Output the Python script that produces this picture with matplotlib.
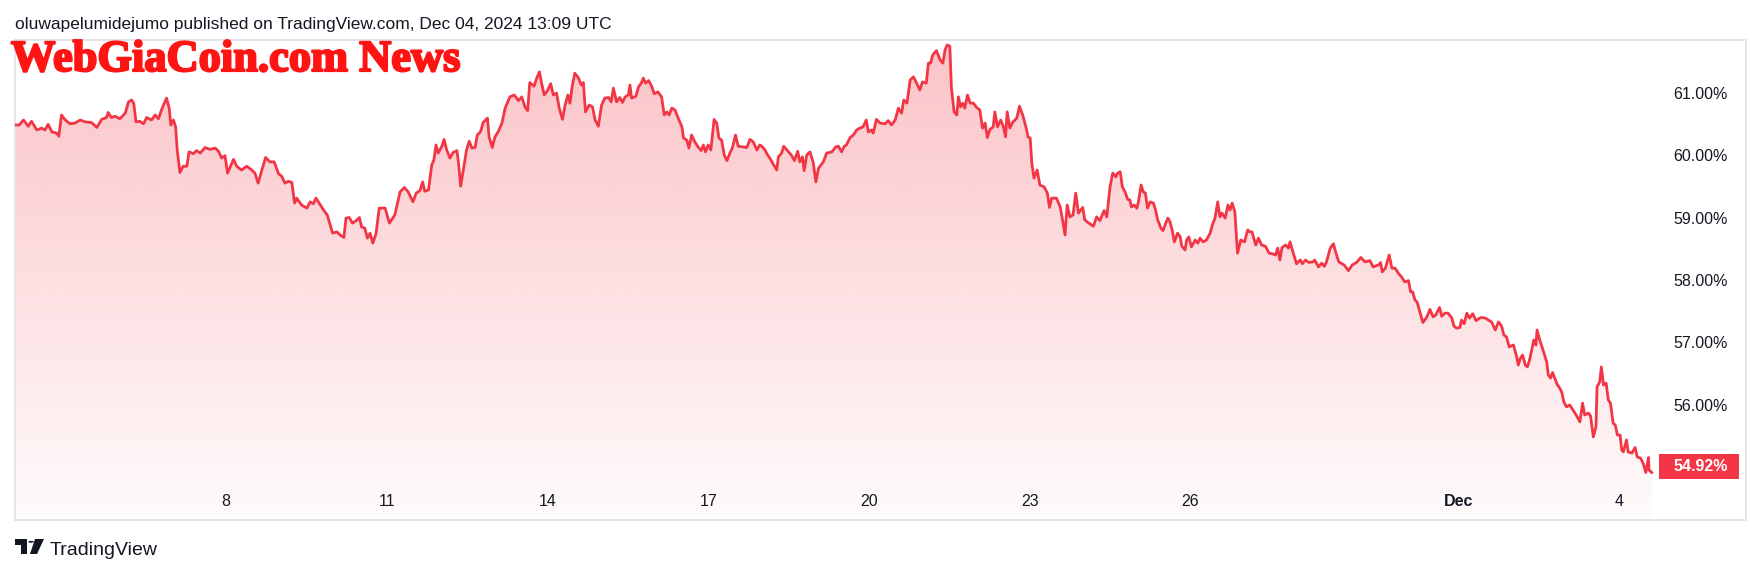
import numpy as np
import pandas as pd
import matplotlib
matplotlib.use('Agg')
import matplotlib.pyplot as plt
import matplotlib.dates as mdates
import matplotlib.transforms as mtransforms
import matplotlib.patheffects as pe
from matplotlib.patches import Polygon, Rectangle, Circle

# day of November (31 = Dec 1)
days = [4.06, 4.14, 4.22, 4.31, 4.37, 4.47, 4.56, 4.62, 4.68, 4.75, 4.84, 4.88, 4.93, 5.00, 5.09, 5.18,
        5.28, 5.37, 5.49, 5.59, 5.68, 5.77, 5.80, 5.86, 5.93, 6.02, 6.12, 6.18, 6.24, 6.28, 6.32, 6.39,
        6.46, 6.52, 6.61, 6.68, 6.74, 6.80, 6.89, 6.94, 6.97, 7.02, 7.06, 7.09, 7.14, 7.20, 7.27, 7.31,
        7.39, 7.45, 7.52, 7.61, 7.70, 7.80, 7.86, 7.92, 7.98, 8.03, 8.14, 8.20, 8.29, 8.39, 8.48, 8.54,
        8.60, 8.67, 8.74, 8.82, 8.90, 8.98, 9.04, 9.10, 9.16, 9.23, 9.28,
        9.32, 9.41, 9.51, 9.57, 9.63, 9.68, 9.82, 9.89, 9.99, 10.07, 10.13, 10.20, 10.24, 10.30, 10.36,
        10.43, 10.49, 10.53, 10.59, 10.64, 10.69, 10.74, 10.80, 10.86, 10.97, 11.05, 11.15, 11.25, 11.33,
        11.40, 11.49, 11.55, 11.62, 11.67, 11.71, 11.78, 11.84, 11.88, 11.92, 11.96, 12.03, 12.07, 12.12,
        12.18, 12.24, 12.31, 12.34, 12.38, 12.43, 12.49, 12.54, 12.59, 12.65, 12.69, 12.75, 12.80, 12.88,
        12.91, 12.97, 13.02, 13.08, 13.15, 13.21, 13.30, 13.38, 13.46, 13.52, 13.58, 13.63, 13.67, 13.75,
        13.80, 13.85, 13.89, 13.94, 14.00, 14.06, 14.11, 14.17, 14.22, 14.28,
        14.33, 14.38, 14.42, 14.46, 14.51, 14.58, 14.63, 14.67, 14.71, 14.78, 14.84, 14.89, 14.95, 15.01,
        15.07, 15.14, 15.19, 15.23, 15.29, 15.35, 15.40, 15.45, 15.51, 15.54, 15.57, 15.65, 15.70, 15.75,
        15.79, 15.83, 15.89, 15.95, 15.99, 16.06, 16.13, 16.18, 16.23, 16.27, 16.32, 16.38, 16.44, 16.51,
        16.54, 16.60, 16.64, 16.69, 16.75, 16.81, 16.87, 16.91, 16.95, 17.00, 17.05, 17.11, 17.16, 17.20,
        17.25, 17.30, 17.35, 17.41, 17.45, 17.51, 17.56, 17.64, 17.72, 17.78, 17.84, 17.91, 17.96, 18.00,
        18.06, 18.11, 18.15, 18.21, 18.28, 18.31, 18.37, 18.41, 18.47, 18.55, 18.61, 18.67, 18.71, 18.76,
        18.79, 18.84, 18.90, 18.96, 19.01, 19.06, 19.15, 19.21, 19.31, 19.38, 19.43, 19.49, 19.54,
        19.58, 19.65, 19.71, 19.77, 19.83, 19.89, 19.95, 19.99, 20.05, 20.08, 20.14, 20.21, 20.30, 20.36,
        20.42, 20.49, 20.55, 20.61, 20.65, 20.71, 20.77, 20.83, 20.89, 20.95, 21.00, 21.07, 21.11, 21.15,
        21.19, 21.26, 21.33, 21.38, 21.42, 21.46, 21.51, 21.54, 21.59, 21.64, 21.67, 21.71, 21.75, 21.79,
        21.84, 21.89, 21.95, 22.01, 22.07, 22.12, 22.17, 22.21, 22.26, 22.32, 22.35, 22.40, 22.46, 22.51,
        22.55, 22.58, 22.63, 22.68, 22.76, 22.81, 22.87, 22.93, 22.97, 23.01, 23.04, 23.08, 23.14, 23.19,
        23.27, 23.33, 23.37, 23.41, 23.50, 23.57, 23.62, 23.66, 23.70, 23.75, 23.81, 23.86, 23.91, 23.99,
        24.03, 24.09, 24.19, 24.25, 24.31, 24.39, 24.44, 24.50, 24.55, 24.61,
        24.64, 24.69, 24.73, 24.78, 24.83, 24.87, 24.90, 24.95, 25.00, 25.03, 25.08, 25.12, 25.16, 25.20,
        25.25, 25.31, 25.35, 25.39, 25.45, 25.49, 25.54, 25.58, 25.62, 25.66, 25.70, 25.76, 25.81, 25.84,
        25.90, 25.93, 25.97, 26.02, 26.09, 26.14, 26.18, 26.24, 26.30, 26.37, 26.41, 26.46, 26.51, 26.55,
        26.59, 26.65, 26.70, 26.74, 26.78, 26.83, 26.88, 26.94, 27.01, 27.07, 27.11, 27.15, 27.22, 27.27,
        27.33, 27.40, 27.47, 27.53, 27.59, 27.63, 27.67, 27.71, 27.78, 27.83, 27.86, 27.92, 27.98, 28.05,
        28.09, 28.15, 28.21, 28.29, 28.32, 28.39, 28.45, 28.50, 28.54, 28.61, 28.67, 28.71, 28.77, 28.87,
        28.95, 29.02, 29.10, 29.18, 29.26, 29.35, 29.41, 29.51, 29.55, 29.58, 29.64, 29.71, 29.76,
        29.82, 29.88, 29.94, 30.00, 30.07, 30.11, 30.15, 30.19, 30.23, 30.29, 30.34, 30.40, 30.43, 30.47,
        30.53, 30.58, 30.65, 30.69, 30.75, 30.81, 30.88, 30.92, 30.97, 31.03, 31.06, 31.11, 31.16, 31.21,
        31.27, 31.33, 31.42, 31.51, 31.56, 31.62, 31.69, 31.75, 31.81, 31.85, 31.90, 31.95, 32.03, 32.09,
        32.12, 32.16, 32.20, 32.25, 32.29, 32.33, 32.37, 32.41, 32.45, 32.47, 32.52, 32.57, 32.62, 32.65,
        32.68, 32.72, 32.76, 32.81, 32.85, 32.88, 32.93, 32.97, 33.02, 33.08, 33.14, 33.20, 33.27, 33.32,
        33.36, 33.43, 33.47, 33.52, 33.57, 33.59, 33.64, 33.67, 33.71, 33.76, 33.80, 33.84, 33.89, 33.93,
        33.97, 34.02, 34.05, 34.08, 34.14, 34.17, 34.24, 34.30, 34.34, 34.40, 34.45, 34.50, 34.55, 34.56,
        34.61]

vals = [60.48, 60.48, 60.56, 60.46, 60.54, 60.40, 60.43, 60.40, 60.49, 60.37, 60.35, 60.30, 60.64, 60.56, 60.50, 60.51,
        60.56, 60.53, 60.52, 60.44, 60.57, 60.60, 60.68, 60.60, 60.62, 60.58, 60.67, 60.85, 60.88, 60.82, 60.53, 60.54,
        60.50, 60.60, 60.56, 60.64, 60.58, 60.73, 60.91, 60.75, 60.48, 60.56, 60.45, 60.08, 59.72, 59.82, 59.82, 60.05,
        60.02, 60.07, 60.03, 60.12, 60.09, 60.11, 60.06, 59.95, 59.99, 59.71, 59.93, 59.82, 59.76, 59.82, 59.76, 59.71,
        59.55, 59.76, 59.96, 59.89, 59.89, 59.70, 59.66, 59.55, 59.58, 59.56, 59.23,
        59.31, 59.20, 59.15, 59.25, 59.22, 59.31, 59.12, 59.04, 58.75, 58.77, 58.72, 58.68, 58.99, 59.00, 58.91,
        58.95, 59.00, 58.85, 58.83, 58.67, 58.75, 58.59, 58.74, 59.15, 59.15, 58.91, 59.04, 59.41, 59.48,
        59.41, 59.25, 59.39, 59.43, 59.57, 59.42, 59.44, 59.84, 59.92, 60.16, 60.03, 60.14, 60.25, 60.08,
        59.95, 60.04, 60.07, 59.87, 59.50, 59.76, 60.08, 60.22, 60.11, 60.12, 60.32, 60.37, 60.52, 60.59,
        60.29, 60.12, 60.29, 60.37, 60.51, 60.75, 60.93, 60.96, 60.87, 60.93, 60.77, 60.71, 61.16, 61.10,
        61.23, 61.33, 61.15, 60.96, 61.03, 61.14, 60.96, 60.99, 60.75, 60.57,
        60.80, 60.96, 60.83, 61.09, 61.31, 61.23, 61.12, 61.16, 60.69, 60.80, 60.77, 60.56, 60.46, 60.80,
        60.91, 60.92, 60.85, 61.07, 60.85, 60.92, 60.84, 60.93, 60.96, 61.12, 60.91, 60.94, 61.09, 61.15,
        61.23, 61.15, 61.19, 61.09, 60.98, 61.01, 60.93, 60.64, 60.69, 60.64, 60.75, 60.72, 60.59, 60.45,
        60.27, 60.24, 60.11, 60.32, 60.21, 60.13, 60.07, 60.16, 60.05, 60.16, 60.08, 60.57, 60.51, 60.27,
        60.24, 60.00, 59.91, 60.04, 60.11, 60.32, 60.14, 60.13, 60.12, 60.25, 60.21, 60.08, 60.16, 60.14,
        60.08, 60.00, 59.95, 59.86, 59.76, 59.97, 60.03, 60.14, 60.08, 60.00, 59.91, 60.06, 59.89, 59.97,
        59.75, 60.00, 60.05, 59.88, 59.57, 59.79, 59.89, 60.03, 60.05, 60.13, 60.14, 60.05, 60.14,
        60.16, 60.28, 60.32, 60.40, 60.43, 60.45, 60.56, 60.37, 60.40, 60.35, 60.57, 60.51, 60.50, 60.55,
        60.48, 60.56, 60.75, 60.67, 60.88, 60.83, 61.20, 61.25, 61.15, 61.04, 61.17, 61.15, 61.47, 61.47,
        61.60, 61.67, 61.52, 61.47, 61.68, 61.76, 61.74, 61.07, 60.69, 60.64, 60.93, 60.77, 60.83, 60.75,
        60.96, 60.83, 60.83, 60.76, 60.72, 60.43, 60.51, 60.28, 60.41, 60.45, 60.69, 60.45, 60.56, 60.45,
        60.29, 60.69, 60.43, 60.52, 60.59, 60.78, 60.64, 60.45, 60.29, 60.27, 59.87, 59.63, 59.76, 59.52,
        59.49, 59.39, 59.16, 59.31, 59.31, 59.17, 58.93, 58.72, 59.20, 59.01, 59.04, 59.39, 59.07, 59.16,
        58.96, 58.92, 58.86, 59.01, 58.95, 59.11, 59.01, 59.49, 59.71, 59.65,
        59.71, 59.73, 59.49, 59.41, 59.29, 59.28, 59.17, 59.20, 59.15, 59.25, 59.52, 59.41, 59.39, 59.15,
        59.25, 59.23, 59.12, 58.96, 58.83, 58.79, 58.91, 58.99, 58.93, 58.80, 58.61, 58.75, 58.69, 58.54,
        58.48, 58.64, 58.69, 58.53, 58.64, 58.59, 58.67, 58.61, 58.64, 58.75, 58.88, 58.99, 59.25, 59.01,
        59.07, 58.99, 59.20, 59.12, 59.23, 59.09, 58.43, 58.64, 58.61, 58.80, 58.77, 58.77, 58.56, 58.67,
        58.56, 58.54, 58.43, 58.42, 58.40, 58.51, 58.32, 58.52, 58.56, 58.51, 58.61, 58.43, 58.26, 58.32,
        58.26, 58.32, 58.28, 58.29, 58.32, 58.21, 58.27, 58.22, 58.29, 58.51, 58.58, 58.45, 58.29, 58.24,
        58.15, 58.24, 58.28, 58.36, 58.29, 58.31, 58.21, 58.24, 58.28, 58.13, 58.19, 58.40, 58.19,
        58.19, 58.11, 58.05, 57.97, 57.99, 57.81, 57.81, 57.68, 57.65, 57.47, 57.32, 57.39, 57.44, 57.53,
        57.41, 57.44, 57.56, 57.42, 57.47, 57.47, 57.39, 57.26, 57.23, 57.24, 57.36, 57.30, 57.47, 57.39,
        57.46, 57.35, 57.40, 57.39, 57.36, 57.33, 57.20, 57.33, 57.26, 57.12, 57.09, 56.93, 56.96, 56.77,
        56.64, 56.75, 56.80, 56.64, 56.61, 56.72, 56.88, 57.04, 56.96, 57.20, 57.04, 56.91, 56.77, 56.69,
        56.48, 56.43, 56.52, 56.41, 56.32, 56.29, 56.21, 56.05, 55.97, 56.00, 55.92, 55.84, 55.73, 56.03,
        55.84, 55.87, 55.82, 55.49, 55.65, 56.29, 56.37, 56.61, 56.32, 56.35, 56.08, 56.03, 55.71, 55.68,
        55.52, 55.52, 55.28, 55.25, 55.44, 55.25, 55.23, 55.32, 55.17, 55.15, 55.07, 54.92, 55.16, 54.96,
        54.92]

tick_days = [8, 11, 14, 17, 20, 23, 26, 31, 34]
tick_labels = ['8', '11', '14', '17', '20', '23', '26', 'Dec', '4']
price_ticks = [56, 57, 58, 59, 60, 61]

W, H = 1761, 574
red = '#F23645'
txt = '#131722'
plt.rcParams['font.family'] = ['Liberation Sans', 'DejaVu Sans']

def todate(d):
    return mdates.date2num(pd.Timestamp('2024-11-01') + pd.to_timedelta(np.asarray(d) - 1, unit='D'))

xs = todate(days)
fig = plt.figure(figsize=(W / 100, H / 100), dpi=100)
ax = fig.add_axes([15 / W, (H - 520) / H, (1746 - 15) / W, (520 - 40) / H])
x0, x1 = todate([4.062, 36.37])
y0, y1 = 54.16, 61.84
ax.set_xlim(x0, x1)
ax.set_ylim(y0, y1)

# gradient area under the line
alpha = np.linspace(0.30, 0.02, 256)
img = np.zeros((256, 1, 4))
img[:, 0, 0] = 242 / 255
img[:, 0, 1] = 54 / 255
img[:, 0, 2] = 69 / 255
img[:, 0, 3] = alpha
im = ax.imshow(img, extent=[x0, x1, y0, y1], aspect='auto', origin='upper', zorder=1,
               interpolation='bilinear')
verts = [(xs[0], y0)] + list(zip(xs, vals)) + [(xs[-1], y0)]
poly = Polygon(verts, closed=True, facecolor='none', edgecolor='none')
ax.add_patch(poly)
im.set_clip_path(poly)
ax.plot(xs, vals, color=red, lw=2.0, solid_joinstyle='round', zorder=3)

ax.set_xticks(todate(tick_days))
ax.set_xticklabels(tick_labels)
ax.tick_params(axis='x', length=0, pad=-13, labelsize=11.5, labelcolor=txt)
for lbl in ax.get_xticklabels():
    lbl.set_verticalalignment('center')
ax.get_xticklabels()[7].set_fontweight('bold')

ax.yaxis.tick_right()
ax.set_yticks(price_ticks)
ax.set_yticklabels(['%.2f%%' % p for p in price_ticks])
ax.tick_params(axis='y', length=0, pad=-13, labelsize=11.5, labelcolor=txt)
for lbl in ax.get_yticklabels():
    lbl.set_horizontalalignment('right')

for s in ax.spines.values():
    s.set_color('#E0E3EB')
    s.set_linewidth(1.3)

# last price label (sits a few pixels above the last point, as in TradingView)
lift = mtransforms.offset_copy(ax.get_yaxis_transform(), fig=fig, x=0, y=6, units='dots')
bw = 80 / (1746 - 15)
ax.add_patch(Rectangle((1 - 87 / (1746 - 15), vals[-1] - 0.2), bw, 0.4, transform=lift,
                       facecolor=red, edgecolor='none', clip_on=False, zorder=5))
ax.text(1 - 18 / (1746 - 15), vals[-1], '%.2f%%' % vals[-1], transform=lift,
        ha='right', va='center', color='white', fontsize=11.5, fontweight='bold', zorder=6)

fig.text(15 / W, (H - 29) / H, 'oluwapelumidejumo published on TradingView.com, Dec 04, 2024 13:09 UTC',
         fontsize=12.5, color=txt, va='baseline', ha='left')
fig.text(11 / W, (H - 71) / H, 'WebGiaCoin.com News', family=['Liberation Serif', 'DejaVu Serif'],
         fontweight='bold', fontsize=32, color='#FF1414', va='baseline', ha='left', zorder=10,
         path_effects=[pe.withStroke(linewidth=1.6, foreground='#FF1414')])

# TradingView logo
def P(x, y):
    return (x / W, (H - y) / H)

tf = fig.transFigure
fig.add_artist(Polygon([P(15, 539), P(27, 539), P(27, 554), P(21, 554), P(21, 545), P(15, 545)],
                       closed=True, facecolor=txt, edgecolor='none', transform=tf))
fig.add_artist(Circle(P(31, 541.8), 2.8 / W, facecolor=txt, edgecolor='none', transform=tf))
fig.add_artist(Polygon([P(35, 539), P(44, 539), P(37, 554), P(30, 554)],
                       closed=True, facecolor=txt, edgecolor='none', transform=tf))
fig.text(50 / W, (H - 555) / H, 'TradingView', fontsize=14, color=txt, va='baseline', ha='left')

fig.savefig('out.png', dpi=100)
